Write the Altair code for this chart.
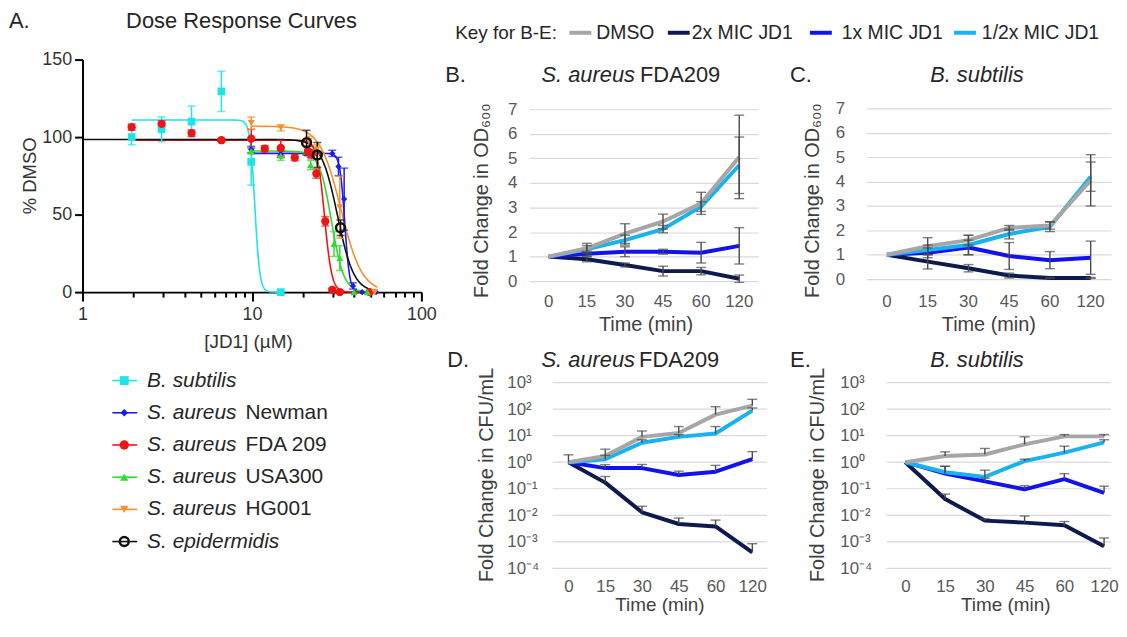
import altair as alt
import pandas as pd

FONT = "Liberation Sans"
TXT = "#262626"
AXL = "#595959"
AXT = "#404040"
GRID = "#d9d9d9"
ERR = "#4a4a4a"

# ---------------- Panel A: dose response ----------------
species = ["B. subtilis", "S. aureus Newman", "S. aureus FDA 209",
           "S. aureus USA300", "S. aureus HG001", "S. epidermidis"]
species_italic = ["B. subtilis", "S. aureus", "S. aureus", "S. aureus", "S. aureus", "S. epidermidis"]
species_plain = ["", "Newman", "FDA 209", "USA300", "HG001", ""]
species_colors = ["#20e3ea", "#1b1bef", "#f01515", "#2edb2e", "#f5902d", "#111111"]
species_shapes = ["square", "diamond", "circle", "triangle-up", "triangle-down", "circle"]
species_sizes = [60, 40, 70, 50, 50, 80]

bsub_dose = [1.95, 2.93, 4.4, 6.6, 9.9, 14.8]
bsub_pct = [100, 105, 110, 129.5, 84, 0]
bsub_err = [5, 8, 10, 13, 15, 0]

newman_dose = [9.9, 14.8, 22.2, 29.8, 32.4, 35.0, 39.5, 44.7, 54.0]
newman_pct = [92, 89, 89, 89.5, 81, 60, 4, 0, 0]
newman_err = [2, 2, 2, 2, 6, 20, 2, 0, 0]

fda_dose = [1.95, 2.93, 4.4, 6.6, 9.9, 11.9, 14.8, 17.9, 21.4, 22.5, 24.0, 27.1, 29.8, 33.0, 49.5]
fda_pct = [106.4, 108.5, 102.6, 98, 99, 92.5, 93, 86.8, 91, 89, 76.5, 45.7, 1.5, 0, 0]
fda_err = [2, 2, 2, 1, 6, 2, 5, 2, 3, 3, 3, 3, 1, 0, 0]

usa_dose = [9.9, 14.8, 22.2, 30.5, 33.0, 40.0, 48.0]
usa_pct = [91, 88, 82, 31, 22, 0, 0]
usa_err = [2, 3, 3, 8, 8, 0, 0]

hg_dose = [9.9, 14.8, 21.7, 24.0, 33.0, 53.0]
hg_pct = [109, 106, 97.4, 92, 54.7, 0]
hg_err = [4, 2, 3, 3, 20, 0]

epi_dose = [21.0, 24.3, 33.3]
epi_pct = [96.4, 88.5, 41.5]
epi_err = [8, 8, 5]

# fitted four-parameter logistic curves: top, IC50, Hill slope, dose range
fit_top = [111, 89.5, 98, 91, 107, 98.5]
fit_ic50 = [10.4, 35.3, 26.8, 29.5, 33.5, 32]
fit_hill = [30, 30, 20, 12, 7, 9]
fit_from = [1.95, 9.9, 1.95, 9.9, 9.9, 1.0]
fit_to = [14.8, 55, 50, 50, 55, 50]

doseA_ticks = [1, 2, 3, 4, 5, 6, 7, 8, 9, 10, 20, 30, 40, 50, 60, 70, 80, 90, 100]
pctA_ticks = [0, 50, 100, 150]

# ---------------- Panels B-E: time kill ----------------
times = ["0", "15", "30", "45", "60", "120"]
treatments = ["DMSO", "2x MIC JD1", "1x MIC JD1", "1/2x MIC JD1"]
treat_colors = ["#a6a6a6", "#0d1a4e", "#1212ee", "#19b2ee"]

# B: S. aureus FDA209, fold change OD600 (mean, SD)
B_dmso = [1.0, 1.34, 1.94, 2.43, 3.17, 5.06]
B_dmso_sd = [0, 0.2, 0.4, 0.3, 0.45, 1.7]
B_2x = [1.0, 0.89, 0.66, 0.41, 0.41, 0.10]
B_2x_sd = [0, 0.1, 0.08, 0.2, 0.15, 0.15]
B_1x = [1.0, 1.12, 1.20, 1.20, 1.16, 1.44]
B_1x_sd = [0, 0.1, 0.2, 0.1, 0.42, 0.74]
B_half = [1.0, 1.30, 1.67, 2.12, 3.04, 4.72]
B_half_sd = [0, 0.15, 0.2, 0.15, 0.2, 1.15]

# C: B. subtilis, fold change OD600 (mean, SD)
C_dmso = [1.0, 1.35, 1.6, 2.1, 2.2, 4.05]
C_dmso_sd = [0, 0.35, 0.2, 0.1, 0.15, 1.05]
C_2x = [1.0, 0.72, 0.45, 0.15, 0.05, 0.05]
C_2x_sd = [0, 0.3, 0.15, 0.1, 0.02, 0.02]
C_1x = [1.0, 1.08, 1.3, 0.95, 0.78, 0.88]
C_1x_sd = [0, 0.2, 0.3, 0.55, 0.35, 0.68]
C_half = [1.0, 1.2, 1.4, 1.85, 2.15, 4.2]
C_half_sd = [0, 0.2, 0.4, 0.2, 0.2, 0.6]

# D: S. aureus FDA209, fold change CFU/mL (mean, upper error)
D_dmso = [1.0, 1.7, 9, 12.5, 62, 135]
D_dmso_up = [1.9, 3.1, 15, 22, 123, 234]
D_2x = [1.0, 0.17, 0.013, 0.0047, 0.0038, 0.0004]
D_2x_up = [1.0, 0.29, 0.022, 0.0079, 0.0066, 0.00085]
D_1x = [1.0, 0.6, 0.6, 0.33, 0.44, 1.3]
D_1x_up = [1.0, 0.81, 0.82, 0.46, 0.76, 2.5]
D_half = [1.0, 1.3, 5.4, 9, 12, 88]
D_half_up = [1.0, 1.8, 7, 11, 22, 110]

# E: B. subtilis, fold change CFU/mL (mean, upper error)
E_dmso = [1.0, 1.7, 1.95, 4.7, 9.4, 9.4]
E_dmso_up = [1.0, 2.45, 3.3, 9, 11, 11]
E_2x = [1.0, 0.041, 0.0063, 0.0053, 0.0042, 0.00068]
E_2x_up = [1.0, 0.063, 0.0074, 0.0094, 0.0058, 0.0014]
E_1x = [1.0, 0.37, 0.19, 0.095, 0.23, 0.07]
E_1x_up = [1.0, 0.7, 0.25, 0.13, 0.37, 0.125]
E_half = [1.0, 0.42, 0.28, 1.1, 2.3, 5.6]
E_half_up = [1.0, 0.7, 0.5, 1.3, 4.0, 7.0]

od_ticks = [0, 1, 2, 3, 4, 5, 6, 7]
cfu_ticks = [1e-4, 1e-3, 1e-2, 1e-1, 1, 10, 100, 1000]
cfu_tick_text = ["10⁻⁴", "10⁻³", "10⁻²", "10⁻¹", "10⁰", "10¹", "10²", "10³"]

# layout of the shared key (pixel offsets relative to panel B)
key_swatch_x = [40, 139, 282, 427]
key_label_x = [67, 163, 314, 455]


# ---------------- helpers ----------------
def T(s, x, y, size=22, style="normal", align="left", color=TXT, angle=0):
    return alt.Chart(pd.DataFrame({"t": [s]})).mark_text(
        align=align, baseline="middle", fontSize=size, fontStyle=style, angle=angle,
        color=color, font=FONT).encode(x=alt.value(x), y=alt.value(y), text="t:N")


# ---------------- Panel A ----------------
rows = []
for sp, d, p, e in zip(species,
                       [bsub_dose, newman_dose, fda_dose, usa_dose, hg_dose, epi_dose],
                       [bsub_pct, newman_pct, fda_pct, usa_pct, hg_pct, epi_pct],
                       [bsub_err, newman_err, fda_err, usa_err, hg_err, epi_err]):
    for xv, yv, ev in zip(d, p, e):
        rows.append({"species": sp, "dose": xv, "pct": yv, "err": ev,
                     "lo": yv - ev, "hi": yv + ev})
ptsA = pd.DataFrame(rows)

major = "datum.value == 1 || datum.value == 10 || datum.value == 100"
axisAx = alt.Axis(values=doseA_ticks,
                  labelExpr=f"({major}) ? '' + datum.value : ''",
                  labelFlush=False, labelOverlap=False,
                  tickSize={"condition": {"test": major, "value": 9}, "value": 5},
                  tickWidth=2, tickColor="black", domainColor="black", domainWidth=2,
                  labelFontSize=18, labelColor="#333333", labelPadding=5, grid=False,
                  title=None)
axisAy = alt.Axis(values=pctA_ticks, grid=False, tickSize=8, tickWidth=2, tickColor="black",
                  domainColor="black", domainWidth=2, labelFontSize=18, labelColor="#333333",
                  labelPadding=3, title=None)
xsA = alt.Scale(type="log", domain=[1, 100], nice=False)
ysA = alt.Scale(domain=[0, 150], nice=False)


def xA(f="dose"):
    return alt.X(f"{f}:Q", scale=xsA, axis=axisAx)


def yA(f="pct"):
    return alt.Y(f"{f}:Q", scale=ysA, axis=axisAy)


layersA = []
for i in range(len(species)):
    expr = f"{fit_top[i]} / (1 + pow(datum.dose / {fit_ic50[i]}, {fit_hill[i]}))"
    layersA.append(
        alt.Chart(alt.sequence(0, 2.0005, 0.002, as_="lx"))
        .transform_calculate(dose="pow(10, datum.lx)")
        .transform_filter(f"datum.dose >= {fit_from[i] * 0.999} && datum.dose <= {fit_to[i] * 1.001}")
        .transform_calculate(pct=expr)
        .mark_line(color=species_colors[i], strokeWidth=1.6)
        .encode(x=xA(), y=yA())
    )

for i, sp in enumerate(species):
    c = species_colors[i]
    pts = alt.Chart(ptsA).transform_filter(alt.datum.species == sp)
    eb = pts.transform_filter(alt.datum.err > 0)
    layersA.append(eb.mark_rule(color=c, strokeWidth=1.5).encode(x=xA(), y=yA("lo"), y2="hi:Q"))
    layersA.append(eb.mark_tick(orient="horizontal", size=8, thickness=1.5, color=c)
                   .encode(x=xA(), y=yA("hi")))
    layersA.append(eb.mark_tick(orient="horizontal", size=8, thickness=1.5, color=c)
                   .encode(x=xA(), y=yA("lo")))

for i, sp in enumerate(species):
    c = species_colors[i]
    pts = alt.Chart(ptsA).transform_filter(alt.datum.species == sp)
    if sp == "S. epidermidis":
        mk = pts.mark_point(shape="circle", filled=False, size=species_sizes[i],
                            strokeWidth=2.5, color=c, opacity=1)
    else:
        mk = pts.mark_point(shape=species_shapes[i], filled=True, size=species_sizes[i],
                            color=c, opacity=1)
    layersA.append(mk.encode(x=xA(), y=yA()))

layersA += [T("A.", -74, -39),
            T("Dose Response Curves", 160, -39, align="center"),
            T("% DMSO", -53, 117, size=18.5, align="center", angle=270, color="#333333"),
            T("[JD1] (µM)", 167, 284, size=19, align="center", color="#333333")]
panelA = alt.layer(*layersA).properties(width=341, height=234)

# ---------------- Legend for A ----------------
legdf = pd.DataFrame({"species": species, "it": species_italic, "plain": species_plain})
yL = alt.Y("species:N", scale=alt.Scale(type="point", domain=species, range=[-2, 160], padding=0),
           axis=None)
legLayers = []
for i, sp in enumerate(species):
    c = species_colors[i]
    base = alt.Chart(legdf).transform_filter(alt.datum.species == sp)
    legLayers.append(base.mark_rule(color=c, strokeWidth=1.6)
                     .encode(x=alt.value(30), x2=alt.value(55), y=yL))
    if sp == "S. epidermidis":
        mk = base.mark_point(shape="circle", filled=False, size=species_sizes[i],
                             strokeWidth=2.5, color=c, opacity=1)
    else:
        mk = base.mark_point(shape=species_shapes[i], filled=True, size=species_sizes[i] + 20,
                             color=c, opacity=1)
    legLayers.append(mk.encode(x=alt.value(42), y=yL))
legLayers.append(alt.Chart(legdf).mark_text(align="left", baseline="middle", fontSize=21,
                                            fontStyle="italic", color=TXT, font=FONT)
                 .encode(x=alt.value(65), y=yL, text="it:N"))
legLayers.append(alt.Chart(legdf).mark_text(align="left", baseline="middle", fontSize=21,
                                            color=TXT, font=FONT)
                 .encode(x=alt.value(164), y=yL, text="plain:N"))
legendA = alt.layer(*legLayers).properties(width=341, height=140)


# ---------------- Panels B-E ----------------
def panel_df(vals, errs, symmetric):
    out = []
    for tr in ["2x MIC JD1", "1x MIC JD1", "1/2x MIC JD1", "DMSO"]:
        for k, t in enumerate(times):
            v = vals[tr][k]
            e = errs[tr][k]
            if symmetric:
                lo, hi = v - e, v + e
            else:
                lo, hi = v, e
            out.append({"treatment": tr, "time": t, "ti": k, "value": v, "lo": lo, "hi": hi})
    return pd.DataFrame(out)


dfB = panel_df({"DMSO": B_dmso, "2x MIC JD1": B_2x, "1x MIC JD1": B_1x, "1/2x MIC JD1": B_half},
               {"DMSO": B_dmso_sd, "2x MIC JD1": B_2x_sd, "1x MIC JD1": B_1x_sd, "1/2x MIC JD1": B_half_sd},
               True)
dfC = panel_df({"DMSO": C_dmso, "2x MIC JD1": C_2x, "1x MIC JD1": C_1x, "1/2x MIC JD1": C_half},
               {"DMSO": C_dmso_sd, "2x MIC JD1": C_2x_sd, "1x MIC JD1": C_1x_sd, "1/2x MIC JD1": C_half_sd},
               True)
dfD = panel_df({"DMSO": D_dmso, "2x MIC JD1": D_2x, "1x MIC JD1": D_1x, "1/2x MIC JD1": D_half},
               {"DMSO": D_dmso_up, "2x MIC JD1": D_2x_up, "1x MIC JD1": D_1x_up, "1/2x MIC JD1": D_half_up},
               False)
dfE = panel_df({"DMSO": E_dmso, "2x MIC JD1": E_2x, "1x MIC JD1": E_1x, "1/2x MIC JD1": E_half},
               {"DMSO": E_dmso_up, "2x MIC JD1": E_2x_up, "1x MIC JD1": E_1x_up, "1/2x MIC JD1": E_half_up},
               False)


def od_yaxis(lp):
    return alt.Axis(values=od_ticks, grid=True, gridColor=GRID, gridWidth=1.2, domain=False,
                    ticks=False, tickSize=0, labelFontSize=17, labelColor=AXL, labelPadding=lp,
                    title=None)


def cfu_yaxis(lp):
    arr = "[" + ",".join(f"'{s}'" for s in cfu_tick_text) + "]"
    return alt.Axis(values=cfu_ticks, labelExpr=f"{arr}[round(log(datum.value) / LN10) + 4]",
                    grid=False, domain=False, ticks=False, tickSize=0, labelFontSize=17,
                    labelColor=AXL, labelPadding=lp, labelAlign="left", labelOverlap=False,
                    title=None)


def time_x_nominal(lp):
    ax = alt.Axis(domain=False, ticks=False, tickSize=0, grid=False, labelAngle=0,
                  labelFontSize=17, labelColor=AXL, labelPadding=lp, title=None)
    return alt.X("time:N", scale=alt.Scale(domain=times), sort=times, axis=ax)


def time_x_index(lp, first_px, step_px, width):
    # time points are drawn at equal steps; the index scale places them at the given pixel offsets
    arr = "[" + ",".join(f"'{s}'" for s in times) + "]"
    ax = alt.Axis(values=list(range(len(times))), labelExpr=f"{arr}[datum.value]",
                  domain=False, ticks=False, tickSize=0, grid=False, labelAngle=0,
                  labelFlush=False, labelOverlap=False,
                  labelFontSize=17, labelColor=AXL, labelPadding=lp, title=None)
    d0 = -first_px / step_px
    d1 = (width - first_px) / step_px
    return alt.X("ti:Q", scale=alt.Scale(domain=[d0, d1], nice=False, zero=False), axis=ax)


def time_panel(df, w, h, xT, yscale, yaxis, symmetric, texts, grid_from=None, grid_to=None):
    color = alt.Color("treatment:N", scale=alt.Scale(domain=treatments, range=treat_colors),
                      legend=None)
    base = alt.Chart(df)
    layers = []
    if grid_from is not None:
        layers.append(alt.Chart(pd.DataFrame({"v": cfu_ticks})).mark_rule(color=GRID, strokeWidth=1.2)
                      .encode(y=alt.Y("v:Q", scale=yscale, axis=yaxis),
                              x=alt.value(grid_from), x2=alt.value(grid_to)))
    layers.append(base.mark_line(strokeWidth=4, strokeJoin="round").encode(
        x=xT, y=alt.Y("value:Q", scale=yscale, axis=yaxis), color=color, order="ti:Q"))
    eb = base.transform_filter("datum.hi > datum.lo")
    layers.append(eb.mark_rule(color=ERR, strokeWidth=1.4).encode(
        x=xT, y=alt.Y("lo:Q", scale=yscale, axis=yaxis), y2="hi:Q"))
    layers.append(eb.mark_tick(orient="horizontal", size=10, thickness=1.4, color=ERR).encode(
        x=xT, y=alt.Y("hi:Q", scale=yscale, axis=yaxis)))
    if symmetric:
        layers.append(eb.mark_tick(orient="horizontal", size=10, thickness=1.4, color=ERR).encode(
            x=xT, y=alt.Y("lo:Q", scale=yscale, axis=yaxis)))
    return alt.layer(*layers, *texts).properties(width=w, height=h)


# shared key, drawn above panel B
key_layers = [T("Key for B-E:", -75, -27, size=19)]
for i, tr in enumerate(treatments):
    key_layers.append(
        alt.Chart(pd.DataFrame({"t": [tr]})).mark_rule(color=treat_colors[i], strokeWidth=4)
        .encode(x=alt.value(key_swatch_x[i]), x2=alt.value(key_swatch_x[i] + 22), y=alt.value(-27)))
    key_layers.append(T(tr, key_label_x[i], -27, size=19.5))

HD = 187  # plot height of panels D and E

panelB = time_panel(
    dfB, 230, 223, time_x_nominal(12),
    alt.Scale(domain=[0, 7], range=[223, 50], nice=False, zero=False),
    od_yaxis(13), True,
    key_layers +
    [T("B.", -85, 16), T("S. aureus", 106, 16, style="italic", align="right"),
     T("FDA209", 111, 16),
     T("Fold Change in OD₆₀₀", -48, 142, size=20, align="center", angle=270, color=AXT),
     T("Time (min)", 117, 267, size=20, align="center", color=AXT)])
panelC = time_panel(
    dfC, 246, 223, time_x_nominal(12),
    alt.Scale(domain=[0, 7], range=[221, 49], nice=False, zero=False),
    od_yaxis(22), True,
    [T("C.", -77, 16), T("B. subtilis", 111, 16, style="italic", align="center"),
     T("Fold Change in OD₆₀₀", -54, 142, size=20, align="center", angle=270, color=AXT),
     T("Time (min)", 123, 267, size=20, align="center", color=AXT)])
panelD = time_panel(
    dfD, 230, HD, time_x_index(10, 39, 37, 230),
    alt.Scale(type="log", domain=[1e-4, 1e3], nice=False),
    cfu_yaxis(23), False,
    [T("D.", -83, -23), T("S. aureus", 106, -23, style="italic", align="right"),
     T("FDA209", 110, -23),
     T("Fold Change in CFU/mL", -43, 93, size=20, align="center", angle=270, color=AXT),
     T("Time (min)", 131, HD + 37, size=19, align="center", color=AXT)],
    grid_from=23, grid_to=239)
panelE = time_panel(
    dfE, 246, HD, time_x_index(10, 39, 40, 246),
    alt.Scale(type="log", domain=[1e-4, 1e3], nice=False),
    cfu_yaxis(27), False,
    [T("E.", -77, -23), T("B. subtilis", 111, -23, style="italic", align="center"),
     T("Fold Change in CFU/mL", -49, 93, size=20, align="center", angle=270, color=AXT),
     T("Time (min)", 140, HD + 37, size=19, align="center", color=AXT)],
    grid_from=20, grid_to=246)

chart = alt.concat(
    panelA, panelB, panelC, legendA, panelD, panelE,
    columns=3, spacing={"row": 91, "column": 109}, bounds="flush", align="none"
).resolve_scale(
    x="independent", y="independent", color="independent"
).properties(
    padding={"left": 1, "top": 0, "right": 0, "bottom": 0}
).configure(font=FONT).configure_view(stroke=None)

chart.save("out.html", embed_options={"renderer": "svg", "actions": False})
